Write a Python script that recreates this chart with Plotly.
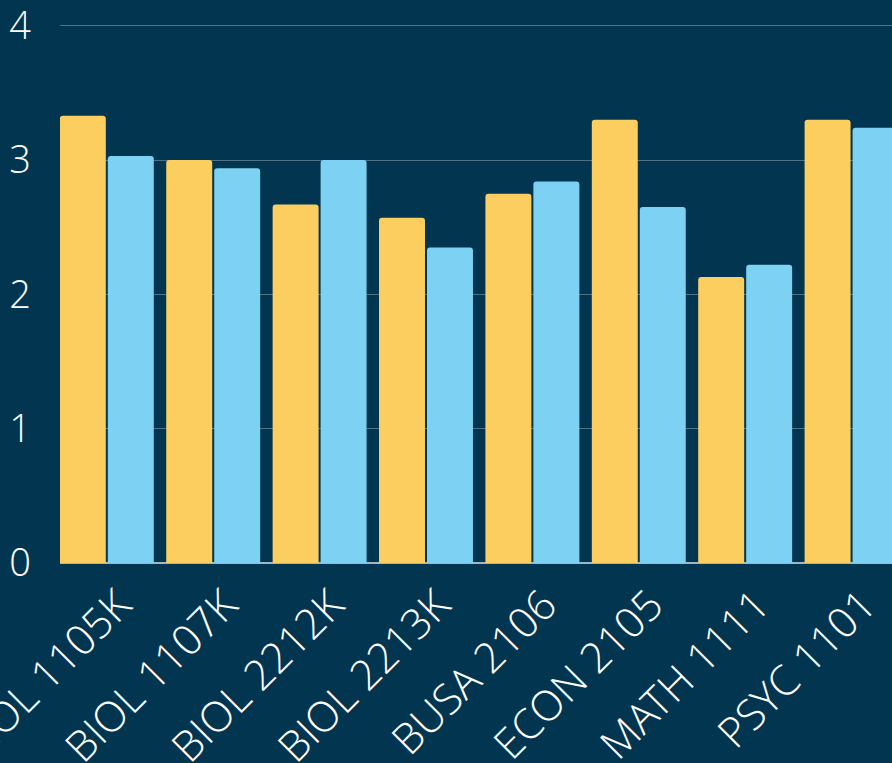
import plotly.graph_objects as go

courses = ["BIOL 1105K", "BIOL 1107K", "BIOL 2212K", "BIOL 2213K",
           "BUSA 2106", "ECON 2105", "MATH 1111", "PSYC 1101"]
series_a = [3.33, 3.00, 2.67, 2.57, 2.75, 3.30, 2.13, 3.30]
series_b = [3.03, 2.94, 3.00, 2.35, 2.84, 2.65, 2.22, 3.24]
y_ticks = [0, 1, 2, 3, 4]

BG = "#02354f"
FONT = "Open Sans Light, Open Sans"
fig = go.Figure()
fig.add_trace(go.Bar(x=courses, y=series_a, name="A",
                     marker=dict(color="#fccd5f", cornerradius=3, line=dict(width=0))))
fig.add_trace(go.Bar(x=courses, y=series_b, name="B",
                     marker=dict(color="#7dd2f3", cornerradius=3, line=dict(width=0))))

fig.update_layout(
    width=892, height=763,
    paper_bgcolor=BG, plot_bgcolor=BG,
    margin=dict(l=60, r=0, t=0, b=200, autoexpand=False),
    barmode="group", bargap=0.098, bargroupgap=0.042,
    showlegend=False,
    font=dict(family=FONT, color="white", size=36, weight=300),
)
fig.update_xaxes(range=[-0.44, 7.38], tickangle=-45, showgrid=False, automargin=False,
                 ticks="", ticklabelstandoff=8, ticklabelshift=12,
                 ticklabeloverflow="allow",
                 tickfont=dict(size=42, family=FONT, weight=300))
fig.update_yaxes(range=[0, 4.192], tickvals=y_ticks, showgrid=True, automargin=False,
                 gridcolor="rgba(255,255,255,0.3)", gridwidth=1,
                 zeroline=True, zerolinecolor="rgba(200,215,225,0.8)", zerolinewidth=2,
                 ticklabelstandoff=28, ticklabeloverflow="allow",
                 tickfont=dict(size=38, family=FONT, weight=300))
fig.write_html("out.html", config={"displayModeBar": False},
               post_script="document.body.style.margin='0';document.body.style.background='" + BG + "';")
